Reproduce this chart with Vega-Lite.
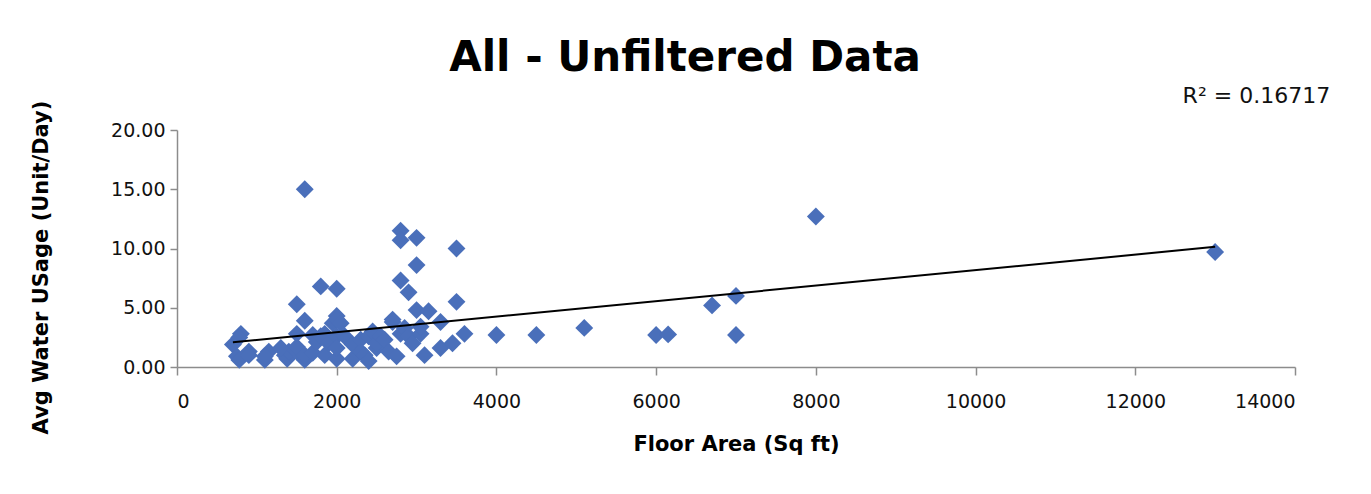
{
  "$schema": "https://vega.github.io/schema/vega-lite/v6.json",
  "width": 1118,
  "height": 237,
  "autosize": {"type": "none"},
  "padding": {"left": 177, "top": 130, "right": 76, "bottom": 127},
  "background": "white",
  "title": {
    "text": "All - Unfiltered Data",
    "font": "DejaVu Sans",
    "fontSize": 42,
    "fontWeight": "bold",
    "color": "black",
    "anchor": "middle",
    "frame": "group",
    "dx": -51,
    "offset": 5
  },
  "config": {
    "view": {"stroke": null},
    "font": "DejaVu Sans"
  },
  "data": {
    "values": [
      {"area": 700, "usage": 1.9}, {"area": 750, "usage": 0.9}, {"area": 780, "usage": 0.6},
      {"area": 800, "usage": 2.8}, {"area": 780, "usage": 2.5}, {"area": 900, "usage": 1.3},
      {"area": 900, "usage": 1.0}, {"area": 1100, "usage": 0.6}, {"area": 1150, "usage": 1.3},
      {"area": 1100, "usage": 0.9}, {"area": 1350, "usage": 1.0}, {"area": 1380, "usage": 0.7},
      {"area": 1400, "usage": 1.3}, {"area": 1300, "usage": 1.6}, {"area": 1500, "usage": 5.3},
      {"area": 1500, "usage": 2.8}, {"area": 1500, "usage": 1.3}, {"area": 1500, "usage": 1.7},
      {"area": 1600, "usage": 15.0}, {"area": 1600, "usage": 3.9}, {"area": 1600, "usage": 0.6},
      {"area": 1600, "usage": 1.0}, {"area": 1700, "usage": 2.7}, {"area": 1700, "usage": 1.2},
      {"area": 1750, "usage": 2.1}, {"area": 1800, "usage": 6.8}, {"area": 1800, "usage": 2.6},
      {"area": 1850, "usage": 1.0}, {"area": 1850, "usage": 2.8}, {"area": 1900, "usage": 2.0},
      {"area": 1950, "usage": 3.7}, {"area": 2000, "usage": 6.6}, {"area": 2000, "usage": 4.3},
      {"area": 2000, "usage": 4.0}, {"area": 2000, "usage": 2.6}, {"area": 2000, "usage": 0.7},
      {"area": 2000, "usage": 1.6}, {"area": 2050, "usage": 3.7}, {"area": 2100, "usage": 2.6},
      {"area": 2200, "usage": 0.7}, {"area": 2200, "usage": 1.9}, {"area": 2300, "usage": 2.3},
      {"area": 2300, "usage": 1.3}, {"area": 2350, "usage": 1.0}, {"area": 2400, "usage": 0.5},
      {"area": 2400, "usage": 2.6}, {"area": 2450, "usage": 3.0}, {"area": 2500, "usage": 1.6},
      {"area": 2500, "usage": 2.0}, {"area": 2550, "usage": 2.6}, {"area": 2600, "usage": 2.3},
      {"area": 2650, "usage": 1.3}, {"area": 2700, "usage": 3.8}, {"area": 2700, "usage": 4.0},
      {"area": 2750, "usage": 0.9}, {"area": 2800, "usage": 11.5}, {"area": 2800, "usage": 10.7},
      {"area": 2800, "usage": 7.3}, {"area": 2800, "usage": 2.8}, {"area": 2850, "usage": 3.3},
      {"area": 2900, "usage": 6.3}, {"area": 2900, "usage": 2.6}, {"area": 2950, "usage": 2.0},
      {"area": 3000, "usage": 10.9}, {"area": 3000, "usage": 8.6}, {"area": 3000, "usage": 4.8},
      {"area": 3050, "usage": 2.8}, {"area": 3050, "usage": 3.4}, {"area": 3100, "usage": 1.0},
      {"area": 3150, "usage": 4.7}, {"area": 3300, "usage": 3.8}, {"area": 3300, "usage": 1.6},
      {"area": 3450, "usage": 2.0}, {"area": 3500, "usage": 10.0}, {"area": 3500, "usage": 5.5},
      {"area": 3600, "usage": 2.8}, {"area": 4000, "usage": 2.7}, {"area": 4500, "usage": 2.7},
      {"area": 5100, "usage": 3.3}, {"area": 6000, "usage": 2.7}, {"area": 6150, "usage": 2.75},
      {"area": 6700, "usage": 5.2}, {"area": 7000, "usage": 6.0}, {"area": 7000, "usage": 2.7},
      {"area": 8000, "usage": 12.7}, {"area": 13000, "usage": 9.7}
    ]
  },
  "encoding": {
    "x": {
      "field": "area",
      "type": "quantitative",
      "scale": {"domain": [0, 14000], "nice": false, "zero": false},
      "axis": {
        "title": "Floor Area (Sq ft)",
        "values": [0, 2000, 4000, 6000, 8000, 10000, 12000, 14000],
        "format": "d",
        "grid": false,
        "domainColor": "#8c8c8c",
        "domainWidth": 1.5,
        "tickColor": "#8c8c8c",
        "tickWidth": 1.5,
        "tickSize": 8,
        "labelFontSize": 19,
        "labelColor": "#111111",
        "labelPadding": 17,
        "titleFontSize": 21,
        "titleFontWeight": "bold",
        "titleColor": "black",
        "titlePadding": 22
      }
    },
    "y": {
      "field": "usage",
      "type": "quantitative",
      "scale": {"domain": [0, 20], "nice": false, "zero": false},
      "axis": {
        "title": "Avg Water USage (Unit/Day)",
        "values": [0, 5, 10, 15, 20],
        "format": ".2f",
        "grid": false,
        "domainColor": "#8c8c8c",
        "domainWidth": 1.5,
        "tickColor": "#8c8c8c",
        "tickWidth": 1.5,
        "tickSize": 7,
        "labelFontSize": 19,
        "labelColor": "#111111",
        "labelPadding": 5,
        "titleFontSize": 21,
        "titleFontWeight": "bold",
        "titleColor": "black",
        "titleAngle": 270,
        "titleAlign": "center",
        "titleBaseline": "middle",
        "titleX": -136,
        "titleY": 137
      }
    }
  },
  "layer": [
    {
      "mark": {"type": "point", "shape": "diamond", "filled": true, "size": 320, "color": "#4a6fba", "opacity": 1}
    },
    {
      "transform": [{"regression": "usage", "on": "area"}],
      "mark": {"type": "line", "color": "black", "strokeWidth": 2}
    },
    {
      "data": {"values": [{"area": 14440, "usage": 22.3, "label": "R² = 0.16717"}]},
      "mark": {"type": "text", "align": "right", "baseline": "alphabetic", "fontSize": 22, "color": "#111111", "clip": false},
      "encoding": {"text": {"field": "label"}}
    }
  ]
}
